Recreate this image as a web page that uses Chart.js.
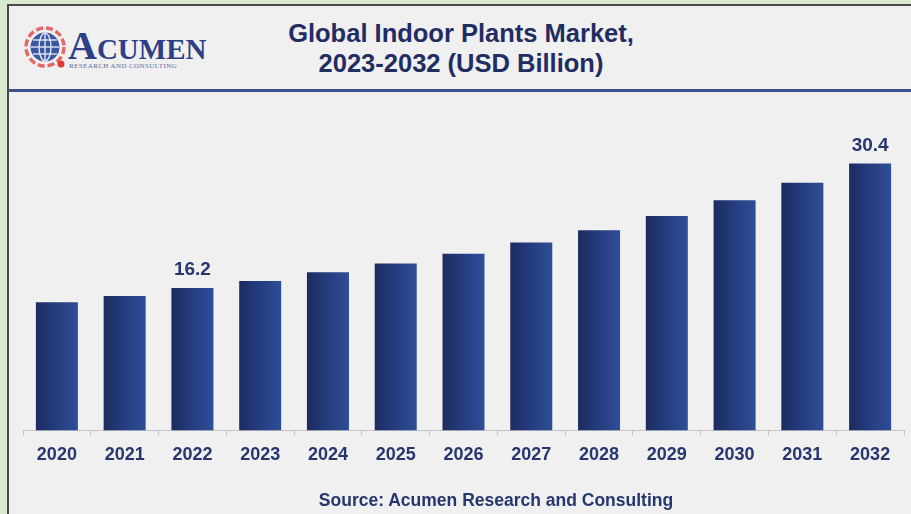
<!DOCTYPE html>
<html>
<head>
<meta charset="utf-8">
<script src="https://cdn.jsdelivr.net/npm/chart.js@4.4.0/dist/chart.umd.min.js"></script>
<style>
  html, body { margin: 0; padding: 0; width: 911px; height: 514px; overflow: hidden; background: #d9ead3; font-family: "Liberation Sans", Arial, sans-serif; }
  #panel { position: absolute; left: 7px; top: 4px; width: 920px; height: 530px; background: #f0f0f0; border-left: 2px solid #4a4a4a; border-top: 2px solid #4a4a4a; }
  #rule { position: absolute; left: 9px; top: 89px; width: 902px; height: 3px; background: #3e508c; }
  #title { position: absolute; left: 211px; top: 18px; width: 500px; text-align: center; color: #1f2d63; font-weight: bold; font-size: 25.5px; line-height: 30px; }
  #source { position: absolute; left: 196px; top: 489px; width: 600px; text-align: center; color: #26366f; font-weight: bold; font-size: 17.5px; line-height: 22px; }
  #logo-svg { position: absolute; left: 22px; top: 24px; }
  #logo-word { position: absolute; left: 68px; top: 22px; color: #2c3f87; font-family: "Liberation Serif", "Times New Roman", serif; font-weight: bold; white-space: nowrap; }
  #logo-word .big { font-size: 40px; }
  #logo-word .sm { font-size: 29px; }
  #logo-sub { position: absolute; left: 69px; top: 62px; width: 137px; color: #5b6a9a; font-family: "Liberation Serif", serif; font-size: 7px; letter-spacing: 0.4px; white-space: nowrap; }
  #wrap { position: absolute; left: 0; top: 0; width: 911px; height: 514px; }
</style>
</head>
<body>
<div id="panel"></div>
<div id="rule"></div>
<svg id="logo-svg" width="48" height="48" viewBox="0 0 48 48">
  <circle cx="23" cy="23" r="19" fill="none" stroke="#e06a6a" stroke-width="3.5" stroke-dasharray="7 3"/>
  <circle cx="23" cy="23" r="14.5" fill="#3b57a0"/>
  <g stroke="#dfe6f5" stroke-width="1.4" fill="none">
    <ellipse cx="23" cy="23" rx="6" ry="14"/>
    <line x1="23" y1="9" x2="23" y2="37"/>
    <line x1="9" y1="23" x2="37" y2="23"/>
    <line x1="11" y1="16" x2="35" y2="16"/>
    <line x1="11" y1="30" x2="35" y2="30"/>
  </g>
  <circle cx="39" cy="40" r="3.5" fill="#e03a3a"/>
</svg>
<div id="logo-word"><span class="big">A</span><span class="sm">CUMEN</span></div>
<div id="logo-sub">RESEARCH AND CONSULTING</div>
<div id="title">Global Indoor Plants Market,<br>2023-2032 (USD Billion)</div>
<div id="wrap"><canvas id="c" width="911" height="514"></canvas></div>
<div id="source">Source: Acumen Research and Consulting</div>
<script>
const categories = ["2020","2021","2022","2023","2024","2025","2026","2027","2028","2029","2030","2031","2032"];
const marketValues = [14.6, 15.3, 16.2, 17.0, 18.0, 19.0, 20.1, 21.4, 22.8, 24.4, 26.2, 28.2, 30.4];
const labeledYears = ["2022", "2032"];

const navy = "#26366f";

function barGradient(ctx) {
  const chart = ctx.chart;
  const xs = chart.scales.x;
  if (!xs || !chart.chartArea || ctx.dataIndex === undefined) return "#27407f";
  const cx = xs.getPixelForValue(ctx.dataIndex);
  const half = 21;
  const g = chart.ctx.createLinearGradient(cx - half, 0, cx + half, 0);
  g.addColorStop(0, "#1d2b5f");
  g.addColorStop(0.5, "#253d80");
  g.addColorStop(1, "#2f4e97");
  return g;
}

const valueLabelPlugin = {
  id: "valueLabels",
  afterDatasetsDraw(chart) {
    const meta = chart.getDatasetMeta(0);
    const c = chart.ctx;
    c.save();
    c.font = "bold 19px 'Liberation Sans', Arial, sans-serif";
    c.fillStyle = navy;
    c.textAlign = "center";
    c.textBaseline = "middle";
    categories.forEach((cat, i) => {
      if (!labeledYears.includes(cat)) return;
      const bar = meta.data[i];
      c.fillText(marketValues[i].toFixed(1), bar.x, bar.y - 18);
    });
    c.restore();
  }
};

new Chart(document.getElementById("c"), {
  type: "bar",
  data: {
    labels: categories,
    datasets: [{
      data: marketValues,
      backgroundColor: barGradient,
      borderWidth: 0,
      barPercentage: 0.62,
      categoryPercentage: 1.0
    }]
  },
  options: {
    responsive: false,
    animation: false,
    events: [],
    layout: { padding: { left: 23, right: 7, top: 123, bottom: 39 } },
    plugins: { legend: { display: false }, tooltip: { enabled: false } },
    scales: {
      x: {
        offset: true,
        grid: { display: true, offset: true, drawOnChartArea: false, tickLength: 5, color: "#c4c4c4" },
        border: { display: true, color: "#c4c4c4", width: 1 },
        ticks: { color: navy, padding: 9, font: { family: "'Liberation Sans', Arial, sans-serif", size: 18, weight: "bold" } }
      },
      y: {
        display: false,
        min: 0,
        max: 35
      }
    }
  },
  plugins: [valueLabelPlugin]
});
</script>
</body>
</html>
